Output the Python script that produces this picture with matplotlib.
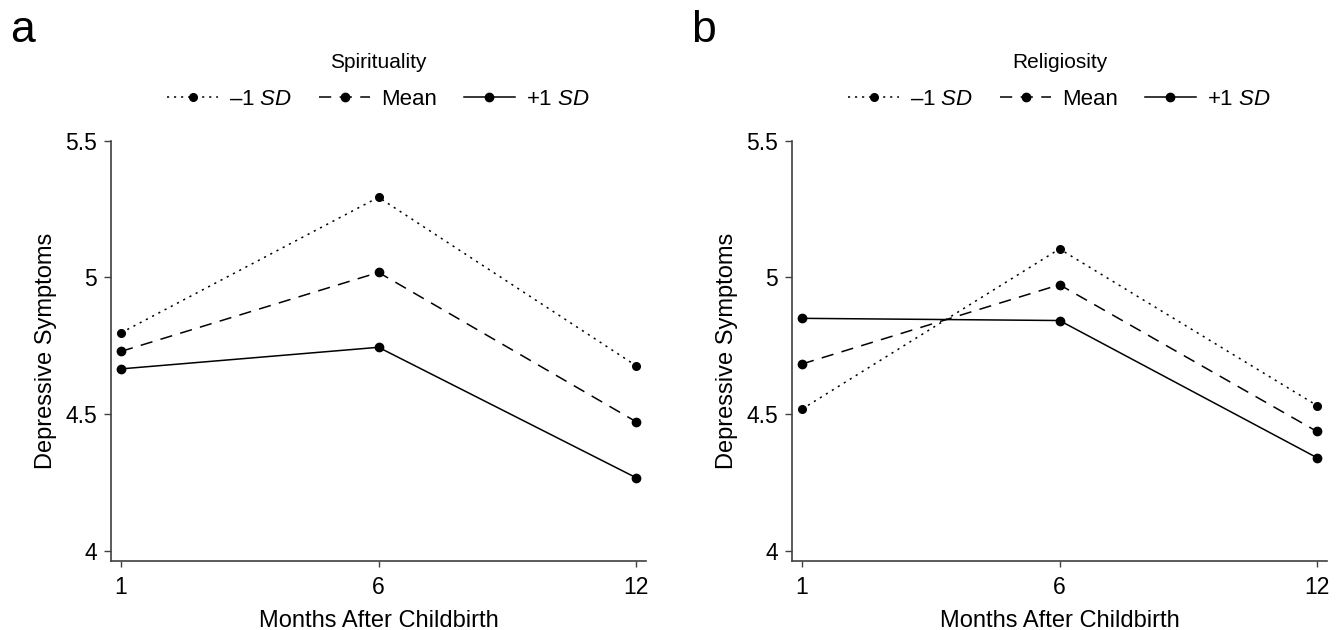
import numpy as np
import matplotlib
matplotlib.use('Agg')
import matplotlib.pyplot as plt

plt.rcParams['font.family'] = ['Liberation Sans', 'DejaVu Sans']
plt.rcParams['mathtext.fontset'] = 'custom'
plt.rcParams['mathtext.it'] = 'Liberation Sans:italic'
plt.rcParams['mathtext.rm'] = 'Liberation Sans'

# data
months = ['1', '6', '12']
spirit_low = [4.797, 5.293, 4.677]
spirit_mean = [4.729, 5.018, 4.472]
spirit_high = [4.665, 4.744, 4.267]
relig_low = [4.518, 5.104, 4.531]
relig_mean = [4.683, 4.973, 4.436]
relig_high = [4.850, 4.842, 4.340]

series_labels = ['\u20131 $SD$', 'Mean', '+1 $SD$']
panels = [('a', 'Spirituality', [spirit_low, spirit_mean, spirit_high]),
          ('b', 'Religiosity', [relig_low, relig_mean, relig_high])]

styles = [dict(linestyle=(0, (1.4, 3.2)), markersize=5.5),
          dict(linestyle=(0, (8, 5.5)), markersize=6),
          dict(linestyle='-', markersize=6)]

fig = plt.figure(figsize=(13.37, 6.30), dpi=100)
lefts = [111 / 1337, 792 / 1337]

for (tag, name, groups), left in zip(panels, lefts):
    ax = fig.add_axes([left, 69 / 630, 535 / 1337, 420.3 / 630])
    x = np.arange(len(months))
    for vals, st, lab in zip(groups, styles, series_labels):
        ax.plot(x, vals, color='black', lw=1.1, marker='o', label=lab, **st)

    ax.set_xlim(-0.039, 2.039)
    ax.set_ylim(3.962, 5.5)
    ax.set_xticks(x)
    ax.set_xticklabels(months)
    ax.set_yticks([4, 4.5, 5, 5.5])
    ax.set_yticklabels(['4', '4.5', '5', '5.5'])
    for s in ['top', 'right']:
        ax.spines[s].set_visible(False)
    for s in ['left', 'bottom']:
        ax.spines[s].set_color('#404040')
        ax.spines[s].set_linewidth(1.2)
    ax.tick_params(axis='both', labelsize=16.5, color='#404040', width=1.0)
    ax.tick_params(axis='y', length=5, pad=5)
    ax.tick_params(axis='x', length=4.5, pad=6)

    ax.set_xlabel('Months After Childbirth', fontsize=17, labelpad=8)
    ax.set_ylabel('Depressive Symptoms', fontsize=17, labelpad=6)

    ax.text(0.5, 1.185, name, transform=ax.transAxes, ha='center', va='center',
            fontsize=15)
    ax.legend(loc='center', bbox_to_anchor=(0.5, 1.099), ncol=3, frameon=False,
              fontsize=16, handlelength=2.3, handletextpad=0.5,
              columnspacing=1.2, numpoints=1)

    fig.text((left * 1337 - 101) / 1337, 0.933, tag, fontsize=32, ha='left',
             va='baseline')

fig.savefig('out.png', dpi=100)
